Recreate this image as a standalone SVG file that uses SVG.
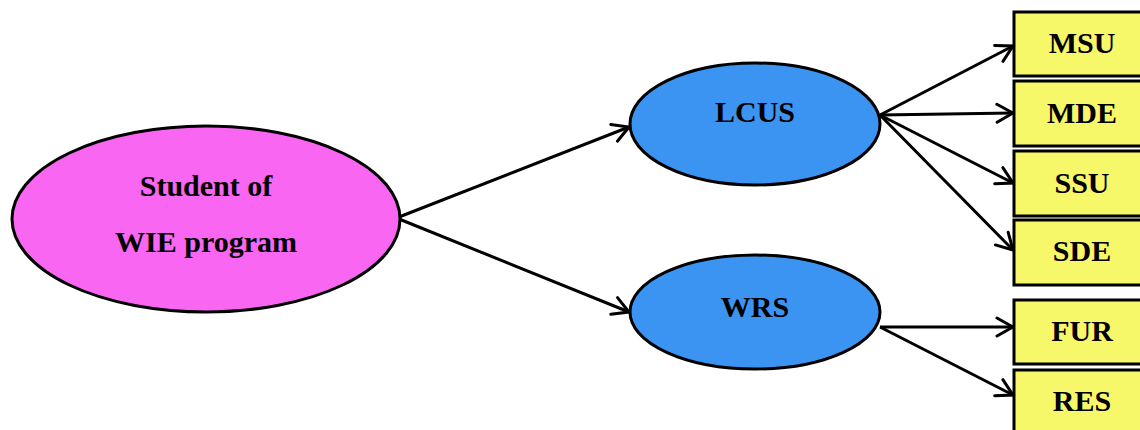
<svg xmlns="http://www.w3.org/2000/svg" width="1140" height="430" viewBox="0 0 1140 430">
  <style>
    .lbl { font-family: "Liberation Serif", "Times New Roman", serif; font-weight: bold; font-size: 30px; fill: #000; text-anchor: middle; }
    .edge { stroke: #000; stroke-width: 3; fill: none; marker-end: url(#open); }
    .root { fill: #f866f2; stroke: #000; stroke-width: 3; }
    .mid { fill: #3c94f2; stroke: #000; stroke-width: 3; }
    .leaf { fill: #f7f76a; stroke: #000; stroke-width: 3; }
  </style>
  <defs>
    <marker id="open" viewBox="-20 -12 22 24" markerWidth="22" markerHeight="24" refX="0" refY="0" orient="auto" markerUnits="userSpaceOnUse">
      <path d="M-16,-9 L0,0 L-16,9" fill="none" stroke="#000" stroke-width="3" stroke-linecap="round" stroke-linejoin="miter"/>
    </marker>
  </defs>
  <rect width="1140" height="430" fill="#fff"/>

  <!-- connectors -->
  <g id="connectors">
    <line class="edge" x1="399" y1="217" x2="629" y2="127"/>
    <line class="edge" x1="399" y1="219" x2="629" y2="312"/>
    <line class="edge" x1="880" y1="115" x2="1013" y2="46"/>
    <line class="edge" x1="880" y1="115" x2="1013" y2="113"/>
    <line class="edge" x1="880" y1="115" x2="1013" y2="183"/>
    <line class="edge" x1="880" y1="115" x2="1013" y2="250"/>
    <line class="edge" x1="880" y1="327" x2="1013" y2="327"/>
    <line class="edge" x1="880" y1="327" x2="1013" y2="395"/>
  </g>

  <!-- root node -->
  <g id="student">
    <ellipse class="root" cx="206" cy="219" rx="194" ry="93"/>
    <text class="lbl" x="206" y="196">Student of</text>
    <text class="lbl" x="206" y="252">WIE program</text>
  </g>

  <!-- second level -->
  <g id="lcus">
    <ellipse class="mid" cx="755" cy="124" rx="125" ry="61"/>
    <text class="lbl" x="755" y="122">LCUS</text>
  </g>
  <g id="wrs">
    <ellipse class="mid" cx="755" cy="312" rx="125" ry="57"/>
    <text class="lbl" x="755" y="317">WRS</text>
  </g>

  <!-- leaf boxes -->
  <g id="msu">
    <rect class="leaf" x="1014" y="12" width="132" height="64"/>
    <text class="lbl" x="1082" y="53">MSU</text>
  </g>
  <g id="mde">
    <rect class="leaf" x="1014" y="81" width="132" height="65"/>
    <text class="lbl" x="1082" y="123">MDE</text>
  </g>
  <g id="ssu">
    <rect class="leaf" x="1014" y="151" width="132" height="65"/>
    <text class="lbl" x="1082" y="193">SSU</text>
  </g>
  <g id="sde">
    <rect class="leaf" x="1014" y="220" width="132" height="65"/>
    <text class="lbl" x="1082" y="261">SDE</text>
  </g>
  <g id="fur">
    <rect class="leaf" x="1014" y="300" width="132" height="64"/>
    <text class="lbl" x="1082" y="341">FUR</text>
  </g>
  <g id="res">
    <rect class="leaf" x="1014" y="370" width="132" height="66"/>
    <text class="lbl" x="1082" y="411">RES</text>
  </g>
</svg>
